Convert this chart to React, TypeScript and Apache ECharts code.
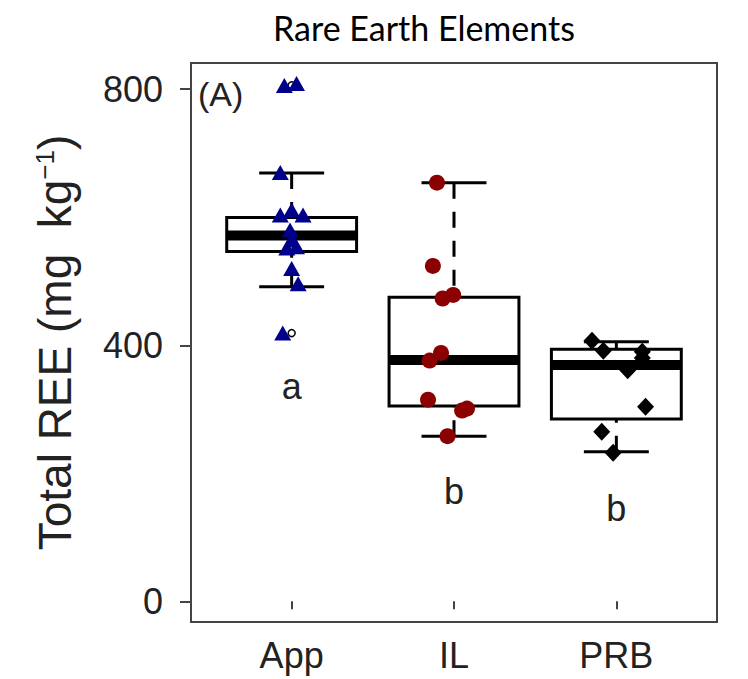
import React, { useEffect, useRef } from "react";
import * as echarts from "echarts";

const categories = ["App", "IL", "PRB"];
const yTicks = [0, 400, 800];
// [lower whisker, Q1, median, Q3, upper whisker]
const appBox = [491.6, 546.3, 571.3, 599.5, 669];
const ilBox = [258, 305, 377, 475, 654];
const prbBox = [233.5, 284.6, 369, 393.6, 405.5];
const appOutliers = [419, 806];
// jittered points [x, value]
const appPoints = [
  [0.955, 806], [1.03, 809], [0.93, 670], [1.0, 611.5], [0.93, 603.7], [1.07, 603.7],
  [0.99, 580], [1.0, 564.6], [0.97, 552], [1.03, 554], [1.0, 520], [1.04, 496], [0.945, 419],
];
const ilPoints = [
  [1.895, 654], [1.87, 524], [1.93, 473], [1.995, 478.6], [1.85, 376], [1.92, 388],
  [1.84, 315], [2.08, 301], [2.05, 298], [1.96, 258],
];
const prbPoints = [
  [2.85, 407], [2.92, 391.5], [3.16, 390], [3.16, 380], [3.07, 361], [3.18, 304], [2.91, 265], [2.98, 232],
];
const letters = [
  [1, 335, "a"],
  [2, 172, "b"],
  [3, 145, "b"],
];

const FONT = "'Liberation Sans', Arial, sans-serif";

export default function App() {
  const ref = useRef<HTMLDivElement>(null);
  useEffect(() => {
    const chart = echarts.init(ref.current!, null, { renderer: "svg" });
    const boxes = [appBox, ilBox, prbBox].map((s, i) => [i + 1, ...s]);
    const outl = appOutliers.map((v) => [1, v]);
    chart.setOption({
      animation: false,
      backgroundColor: "#fff",
      grid: {
        left: 191,
        top: 63,
        width: 526,
        height: 559,
        show: true,
        borderColor: "#444",
        borderWidth: 2,
        backgroundColor: "transparent",
      },
      graphic: [
        {
          type: "text",
          x: 424,
          y: 27,
          style: {
            text: "Rare Earth Elements",
            font: "34px Lato, 'Open Sans', sans-serif",
            fill: "#000",
            textAlign: "center",
            textVerticalAlign: "middle",
          },
        },
        {
          type: "text",
          x: 198,
          y: 94,
          style: {
            text: "(A)",
            font: "34px " + FONT,
            fill: "#222",
            textAlign: "left",
            textVerticalAlign: "middle",
          },
        },
      ],
      xAxis: {
        type: "value",
        min: 0.38,
        max: 3.62,
        axisLine: { show: false },
        splitLine: { show: false },
        axisTick: {
          show: true,
          customValues: [1, 2, 3],
          length: 8,
          lineStyle: { color: "#444", width: 2 },
        },
        axisLabel: {
          customValues: [1, 2, 3],
          formatter: (v: number) => categories[Math.round(v) - 1],
          fontSize: 36,
          fontFamily: FONT,
          color: "#222",
          margin: 15,
        },
      },
      yAxis: {
        type: "value",
        min: -32.4,
        max: 841,
        axisLine: { show: false },
        splitLine: { show: false },
        axisTick: {
          show: true,
          customValues: yTicks,
          length: 11,
          lineStyle: { color: "#444", width: 2 },
        },
        axisLabel: {
          customValues: yTicks,
          fontSize: 36,
          fontFamily: FONT,
          color: "#222",
          margin: 28,
        },
        name: "{n|Total REE (mg\u00a0\u00a0kg}{s|\u22121}{n|)}",
        nameLocation: "middle",
        nameGap: 113,
        nameTextStyle: {
          rich: {
            n: { fontSize: 46, fontFamily: FONT, color: "#222" },
            s: { fontSize: 26, fontFamily: FONT, color: "#222", verticalAlign: "top" },
          },
        },
      },
      series: [
        {
          type: "custom",
          data: boxes,
          dimensions: ["x", "lo", "q1", "med", "q3", "hi"],
          encode: { x: 0, y: [1, 2, 3, 4, 5] },
          renderItem: (params: any, api: any) => {
            const x = api.value(0);
            const lo = api.value(1);
            const q1 = api.value(2);
            const med = api.value(3);
            const q3 = api.value(4);
            const hi = api.value(5);
            const half = 0.4;
            const cap = 0.2;
            const tl = api.coord([x - half, q3]);
            const br = api.coord([x + half, q1]);
            const c = api.coord([x, 0])[0];
            const yLo = api.coord([x, lo])[1];
            const yHi = api.coord([x, hi])[1];
            const yQ1 = br[1];
            const yQ3 = tl[1];
            const yMed = api.coord([x, med])[1];
            const cL = api.coord([x - cap, 0])[0];
            const cR = api.coord([x + cap, 0])[0];
            const lineSt = { stroke: "#000", lineWidth: 3 };
            const dashSt = { stroke: "#000", lineWidth: 3, lineDash: [16, 13] };
            return {
              type: "group",
              children: [
                { type: "line", shape: { x1: c, y1: yHi, x2: c, y2: yQ3 }, style: dashSt },
                { type: "line", shape: { x1: c, y1: yLo, x2: c, y2: yQ1 }, style: dashSt },
                { type: "line", shape: { x1: cL, y1: yHi, x2: cR, y2: yHi }, style: lineSt },
                { type: "line", shape: { x1: cL, y1: yLo, x2: cR, y2: yLo }, style: lineSt },
                {
                  type: "rect",
                  shape: { x: tl[0], y: tl[1], width: br[0] - tl[0], height: br[1] - tl[1] },
                  style: { fill: "#fff", stroke: "#000", lineWidth: 3 },
                },
                {
                  type: "line",
                  shape: { x1: tl[0], y1: yMed, x2: br[0], y2: yMed },
                  style: { stroke: "#000", lineWidth: 10, lineCap: "butt" },
                },
              ],
            };
          },
          z: 2,
        },
        {
          type: "scatter",
          data: outl,
          symbol: "circle",
          symbolSize: 7,
          itemStyle: { color: "#fff", borderColor: "#000", borderWidth: 1.5, opacity: 1 },
          z: 3,
        },
        {
          type: "scatter",
          data: appPoints,
          symbol: "triangle",
          symbolSize: [17, 15],
          itemStyle: { color: "#00008B", opacity: 1 },
          z: 4,
        },
        {
          type: "scatter",
          data: ilPoints,
          symbol: "circle",
          symbolSize: 16,
          itemStyle: { color: "#8B0000", opacity: 1 },
          z: 4,
        },
        {
          type: "scatter",
          data: prbPoints,
          symbol: "diamond",
          symbolSize: [17, 18],
          itemStyle: { color: "#000", opacity: 1 },
          z: 4,
        },
        {
          type: "scatter",
          data: letters,
          symbolSize: 1,
          itemStyle: { color: "rgba(0,0,0,0)", opacity: 1 },
          label: {
            show: true,
            position: "inside",
            formatter: (p: any) => p.data[2],
            fontSize: 36,
            fontFamily: FONT,
            color: "#222",
            opacity: 1,
          },
          z: 5,
        },
      ],
    });
    return () => chart.dispose();
  }, []);
  return (
    <div
      ref={ref}
      style={{ position: "fixed", left: 0, top: 0, width: 748, height: 679 }}
    />
  );
}
